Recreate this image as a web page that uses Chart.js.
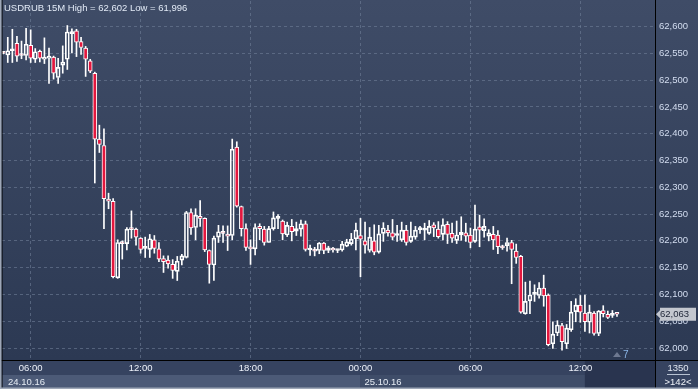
<!DOCTYPE html>
<html><head><meta charset="utf-8">
<script src="https://cdn.jsdelivr.net/npm/chart.js@4.4.1/dist/chart.umd.min.js"></script>
<style>html,body{margin:0;padding:0;background:#2f3b55;overflow:hidden}canvas{display:block}</style>
</head><body>
<canvas id="c" width="698" height="389"></canvas>
<script>
const symbol = 'USDRUB 15M';
const opens = [62.551,62.547,62.555,62.569,62.547,62.546,62.565,62.539,62.554,62.539,
62.541,62.543,62.505,62.528,62.539,62.587,62.592,62.572,62.560,62.536,
62.513,62.390,62.378,62.278,62.274,62.131,62.196,62.195,62.223,62.222,
62.205,62.186,62.184,62.202,62.185,62.167,62.164,62.156,62.143,62.164,
62.169,62.253,62.225,62.246,62.242,62.182,62.155,62.207,62.215,62.212,
62.210,62.375,62.264,62.223,62.188,62.185,62.227,62.222,62.197,62.223,
62.242,62.237,62.211,62.227,62.218,62.222,62.232,62.183,62.182,62.182,
62.196,62.182,62.186,62.182,62.183,62.190,62.195,62.204,62.210,62.200,
62.182,62.200,62.179,62.214,62.220,62.215,62.210,62.202,62.220,62.199,
62.207,62.221,62.220,62.214,62.230,62.222,62.212,62.231,62.214,62.201,
62.211,62.215,62.211,62.199,62.226,62.219,62.209,62.212,62.211,62.188,
62.191,62.197,62.181,62.171,62.064,62.088,62.100,62.098,62.112,62.099,
62.008,62.028,62.042,62.008,62.034,62.068,62.080,62.065,62.048,62.065,
62.027,62.070,62.063,62.061,62.066];
const highs = [62.552,62.580,62.595,62.582,62.573,62.597,62.594,62.559,62.556,62.579,
62.560,62.545,62.541,62.564,62.602,62.596,62.595,62.580,62.563,62.539,
62.515,62.416,62.409,62.289,62.279,62.202,62.200,62.225,62.256,62.224,
62.206,62.207,62.212,62.210,62.197,62.172,62.172,62.165,62.171,62.175,
62.255,62.260,62.260,62.275,62.243,62.183,62.209,62.229,62.228,62.228,
62.390,62.385,62.265,62.232,62.202,62.232,62.232,62.227,62.227,62.254,
62.249,62.239,62.235,62.240,62.235,62.239,62.237,62.192,62.188,62.197,
62.197,62.190,62.188,62.184,62.199,62.203,62.214,62.233,62.242,62.235,
62.225,62.230,62.229,62.234,62.229,62.240,62.229,62.235,62.229,62.235,
62.227,62.227,62.233,62.238,62.234,62.236,62.241,62.236,62.233,62.237,
62.245,62.233,62.224,62.267,62.248,62.241,62.221,62.227,62.219,62.192,
62.205,62.201,62.194,62.173,62.123,62.125,62.118,62.122,62.136,62.101,
62.049,62.051,62.046,62.044,62.087,62.092,62.098,62.099,62.080,62.068,
62.070,62.079,62.069,62.070,62.066];
const lows = [62.549,62.533,62.533,62.535,62.540,62.538,62.533,62.533,62.534,62.531,
62.494,62.502,62.494,62.513,62.520,62.551,62.544,62.548,62.507,62.514,
62.308,62.365,62.223,62.260,62.131,62.130,62.166,62.183,62.205,62.192,
62.177,62.169,62.169,62.177,62.161,62.141,62.149,62.130,62.126,62.155,
62.168,62.212,62.202,62.227,62.180,62.121,62.126,62.197,62.197,62.182,
62.202,62.263,62.209,62.182,62.156,62.174,62.202,62.192,62.197,62.220,
62.223,62.202,62.208,62.200,62.210,62.209,62.181,62.173,62.172,62.176,
62.176,62.178,62.179,62.178,62.181,62.189,62.192,62.183,62.133,62.177,
62.179,62.174,62.177,62.199,62.209,62.202,62.199,62.199,62.192,62.197,
62.203,62.214,62.202,62.212,62.208,62.205,62.202,62.195,62.197,62.195,
62.201,62.199,62.187,62.197,62.189,62.207,62.200,62.184,62.176,62.184,
62.181,62.120,62.158,62.065,62.063,62.064,62.087,62.093,62.078,62.004,
61.999,62.023,61.996,61.999,62.031,62.049,62.048,62.031,62.028,62.024,
62.023,62.058,62.055,62.057,62.059];
const closes = [62.550,62.555,62.556,62.545,62.546,62.567,62.541,62.553,62.541,62.543,
62.545,62.513,62.524,62.534,62.590,62.588,62.571,62.561,62.539,62.517,
62.390,62.380,62.279,62.274,62.133,62.197,62.195,62.222,62.221,62.207,
62.184,62.187,62.204,62.186,62.166,62.161,62.157,62.145,62.162,62.172,
62.253,62.224,62.248,62.242,62.183,62.156,62.205,62.217,62.214,62.209,
62.371,62.265,62.223,62.188,62.185,62.225,62.223,62.197,62.223,62.243,
62.243,62.213,62.229,62.217,62.223,62.232,62.184,62.184,62.181,62.196,
62.182,62.187,62.183,62.182,62.194,62.198,62.203,62.220,62.203,62.192,
62.207,62.179,62.213,62.224,62.215,62.207,62.211,62.220,62.197,62.209,
62.220,62.222,62.221,62.227,62.224,62.208,62.230,62.212,62.205,62.211,
62.216,62.209,62.197,62.222,62.220,62.227,62.215,62.202,62.189,62.187,
62.197,62.184,62.169,62.067,62.087,62.099,62.101,62.112,62.097,62.006,
62.026,62.043,62.012,62.037,62.067,62.080,62.067,62.049,62.067,62.027,
62.069,62.064,62.057,62.062,62.063];

const xTickIdx = [6, 30, 54, 78, 102, 126];
const xTickLabels = ['06:00', '12:00', '18:00', '00:00', '06:00', '12:00'];
const yTicks = [62.00,62.05,62.10,62.15,62.20,62.25,62.30,62.35,62.40,62.45,62.50,62.55,62.60];
const dateLabels = ['24.10.16', '25.10.16'];
const dateStartIdx = [-0.26, 78];
const barCountText = '1350';
const visibleText = '>142<';
const markerText = '7';

const fmt = v => v.toFixed(3).replace('.', ',');
const RED = '#e3173e';
const FONT = '"Liberation Sans", Arial, sans-serif';
const FS = 9.5;
const idx = opens.map((_, i) => i);
const bodyData = idx.map(i => ({x: i, y: [opens[i], closes[i]]}));
const upperWick = idx.map(i => ({x: i, y: [Math.max(opens[i], closes[i]), highs[i]]}));
const lowerWick = idx.map(i => ({x: i, y: [lows[i], Math.min(opens[i], closes[i])]}));
const lastPrice = closes[closes.length - 1];

const deco = {
  id: 'deco',
  beforeDraw(chart) {
    const {ctx, chartArea: a, width: W, height: H} = chart;
    const xs = chart.scales.x;
    ctx.save();
    let g = ctx.createLinearGradient(0, 0, 0, a.bottom);
    g.addColorStop(0, '#3f4c67');
    g.addColorStop(1, '#2c3953');
    ctx.fillStyle = g;
    ctx.fillRect(0, 0, W, a.bottom);
    ctx.fillStyle = '#364360';
    ctx.fillRect(0, a.bottom, W, H - a.bottom);
    const x1 = xs.getPixelForValue(dateStartIdx[1]);
    const x2 = xs.getPixelForValue(127);
    ctx.fillStyle = '#4c5a77';
    ctx.fillRect(a.left, 375, x1 - a.left, 13);
    ctx.fillStyle = '#3f4d69';
    ctx.fillRect(x1, 375, x2 - x1, 13);
    ctx.fillStyle = '#29344f';
    ctx.fillRect(x2, a.bottom, a.right - x2, H - a.bottom);
    ctx.restore();
  },
  afterDraw(chart) {
    const {ctx, chartArea: a, width: W, height: H} = chart;
    const xs = chart.scales.x, ys = chart.scales.y;
    ctx.save();
    ctx.fillStyle = '#000';
    ctx.fillRect(a.right, 0, 1, H);
    ctx.fillRect(0, a.bottom, W, 1);
    ctx.fillRect(a.left - 0.5, 0, 1, H);
    ctx.fillStyle = '#9ea7b7';
    ctx.fillRect(0, 0, 1.5, H);
    ctx.fillRect(0, H - 1.5, W, 1.5);
    ctx.font = FS + 'px ' + FONT;
    ctx.fillStyle = '#e2eaf6';
    ctx.textBaseline = 'middle';
    ctx.textAlign = 'left';
    const hi = Math.max(...highs), lo = Math.min(...lows);
    ctx.fillText(symbol + ' High = ' + fmt(hi) + ' Low = ' + fmt(lo), 4, 8);
    ctx.fillStyle = '#e6ecf5';
    dateLabels.forEach((t, k) => {
      const x = k === 0 ? a.left + 6 : xs.getPixelForValue(dateStartIdx[k]) + 4;
      ctx.fillText(t, x, 382);
    });
    ctx.fillStyle = '#6d7890';
    ctx.beginPath();
    ctx.moveTo(613, 357); ctx.lineTo(617, 352); ctx.lineTo(621, 357); ctx.closePath(); ctx.fill();
    ctx.fillStyle = '#8bb6e8';
    ctx.font = '10px ' + FONT;
    ctx.fillText(markerText, 623, 355);
    const py = ys.getPixelForValue(lastPrice);
    ctx.fillStyle = '#c3c7cf';
    ctx.beginPath();
    ctx.moveTo(656, py);
    ctx.lineTo(660, py - 4);
    ctx.lineTo(660, py - 6.5);
    ctx.lineTo(696, py - 6.5);
    ctx.lineTo(696, py + 6.5);
    ctx.lineTo(660, py + 6.5);
    ctx.lineTo(660, py + 4);
    ctx.closePath();
    ctx.fill();
    ctx.fillStyle = '#1d2436';
    ctx.font = FS + 'px ' + FONT;
    ctx.fillText(fmt(lastPrice), 660, py + 0.5);
    ctx.textAlign = 'center';
    ctx.fillStyle = '#e2e8f2';
    ctx.fillText(barCountText, 678, 368);
    ctx.fillStyle = '#b8c2d2';
    ctx.fillRect(667, 374, 23, 1);
    ctx.fillStyle = '#f0f4fa';
    ctx.fillText(visibleText, 678, 382);
    ctx.restore();
  }
};

new Chart(document.getElementById('c').getContext('2d'), {
  type: 'bar',
  data: {
    datasets: [
      {data: lowerWick, backgroundColor: '#ffffff', borderWidth: 0, barThickness: 1, grouped: false},
      {data: upperWick, backgroundColor: '#ffffff', borderWidth: 0, barThickness: 1, grouped: false},
      {data: bodyData,
       backgroundColor: c => (closes[c.dataIndex] < opens[c.dataIndex] ? RED : 'rgba(0,0,0,0)'),
       borderColor: '#ffffff', borderWidth: 1, borderSkipped: false,
       barThickness: 4, minBarLength: 2, grouped: false}
    ]
  },
  options: {
    responsive: false, animation: false, devicePixelRatio: 1,
    layout: {padding: {left: 2, top: 1, right: 0, bottom: 0}},
    plugins: {legend: {display: false}, tooltip: {enabled: false}, title: {display: false}},
    scales: {
      x: {
        type: 'linear', min: -0.26, max: 142.3, offset: false, position: 'bottom',
        afterFit: s => { s.height = 29; s.paddingLeft = 0; s.paddingRight = 0; },
        afterBuildTicks: s => { s.ticks = xTickIdx.map(v => ({value: v})); },
        ticks: {autoSkip: false, maxRotation: 0, padding: 3, color: '#eef2fa',
          font: {family: FONT, size: FS},
          callback: v => xTickLabels[xTickIdx.indexOf(v)]},
        grid: {offset: false, color: 'rgba(112,126,152,0.6)', drawTicks: false, lineWidth: 1},
        border: {display: false, dash: [3, 3]}
      },
      y: {
        position: 'right', min: 61.9776, max: 62.6478,
        afterFit: s => { s.width = 43; s.paddingTop = 0; s.paddingBottom = 0; },
        afterBuildTicks: s => { s.ticks = yTicks.map(v => ({value: v})); },
        ticks: {padding: 4, color: '#d3ddf0', font: {family: FONT, size: FS}, callback: v => fmt(v)},
        grid: {color: 'rgba(112,126,152,0.6)', drawTicks: false, lineWidth: 1},
        border: {display: false, dash: [3, 3]}
      }
    }
  },
  plugins: [deco]
});
</script>
</body></html>
